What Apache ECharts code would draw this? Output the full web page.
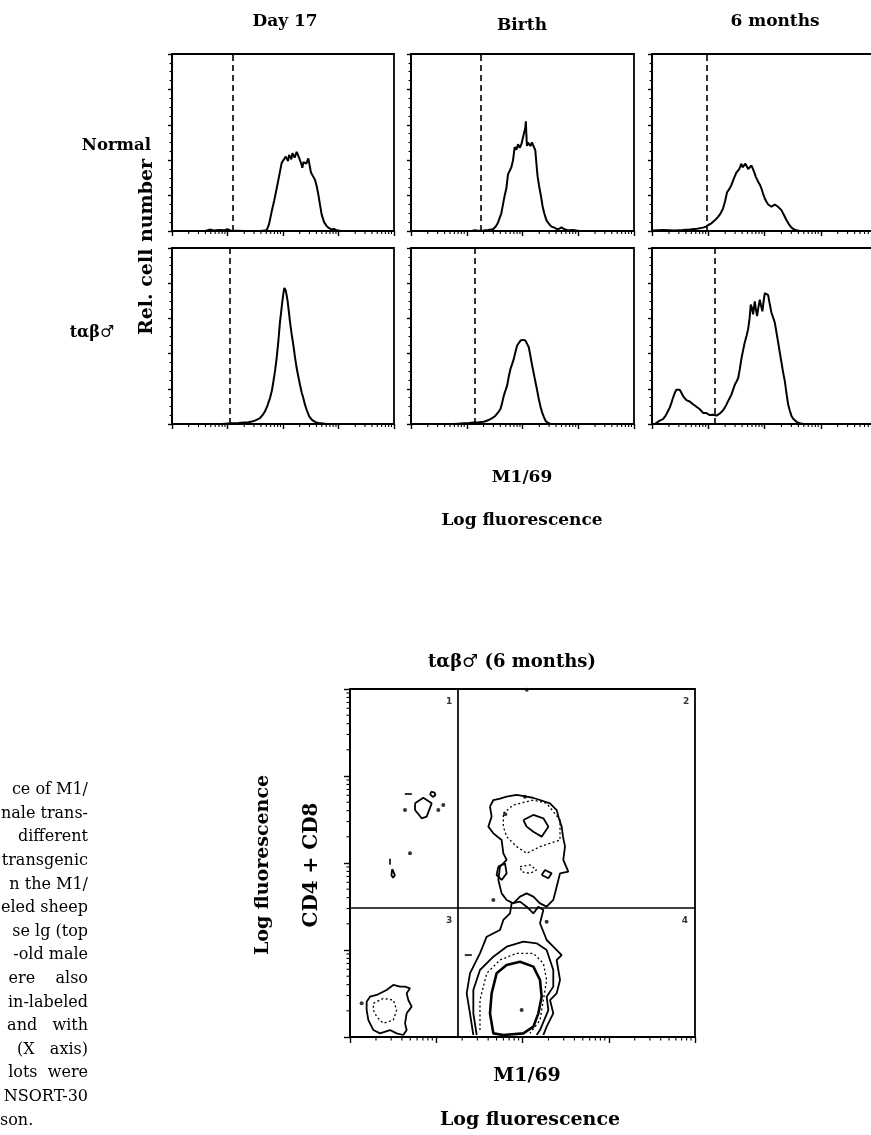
<!DOCTYPE html>
<html><head><meta charset="utf-8">
<script src="https://cdn.jsdelivr.net/npm/echarts@6/dist/echarts.min.js"></script>
<style>html,body{margin:0;padding:0;background:#fff}#c{width:871px;height:1135px}</style>
</head><body><div id="c"></div>
<script>
// ---------- categories / labels ----------
const columnLabels = ['Day 17', 'Birth', '6 months'];
const rowLabels = ['Normal', 'tαβ♂'];
const captionLines = ['ce of M1/', 'nale trans-', 'different', 'transgenic', 'n the M1/', 'eled sheep',
  'se lg (top', '-old male', 'ere    also', 'in-labeled', 'and   with', '(X   axis)', 'lots  were', 'NSORT-30', 'son.'];

// ---------- histogram data: [log10 fluorescence, relative cell number] ----------
const histNormalDay17 = [[0,0],[0.6,0],[0.68,0.8],[0.75,0.3],[0.85,0.6],[0.95,0.4],[1.0,1.0],[1.05,0.3],[1.3,0],[1.6,0],[1.706,0.5],[1.75,4],[1.796,11],[1.84,17],[1.886,24],[1.93,31],[1.976,38.5],[2.006,40],[2.03,39],[2.05,42],[2.066,41],[2.09,39.5],[2.11,43],[2.126,42],[2.15,40.5],[2.17,44],[2.186,43],[2.21,41.5],[2.246,44.7],[2.27,43],[2.306,42],[2.33,38],[2.348,35.7],[2.37,39],[2.396,40],[2.42,38],[2.456,41],[2.48,37],[2.504,33],[2.54,31],[2.576,29],[2.61,25],[2.636,20.7],[2.666,15],[2.696,9.4],[2.74,5],[2.786,2.8],[2.83,1.6],[2.876,0.9],[2.92,1.2],[2.966,0.4],[3.05,0],[4,0]];
const histNormalBirth = [[0,0],[1.1,0],[1.14,0.5],[1.2,0.2],[1.3,0.3],[1.38,0.6],[1.47,1],[1.52,2.5],[1.56,4.7],[1.62,10],[1.68,20],[1.71,24],[1.74,32],[1.77,33],[1.80,36],[1.83,40],[1.86,47.4],[1.89,46],[1.92,49],[1.95,47],[1.98,49],[2.01,50],[2.03,55.6],[2.05,58],[2.06,62],[2.07,54],[2.08,48],[2.1,50],[2.12,51],[2.14,48],[2.17,50],[2.2,49],[2.23,45.5],[2.25,38],[2.27,31],[2.3,25],[2.33,20],[2.36,14],[2.39,10],[2.43,6],[2.48,3.8],[2.52,2.5],[2.57,1.9],[2.62,1.1],[2.66,1.3],[2.7,2],[2.75,1],[2.8,0.6],[2.84,0.4],[2.9,0.6],[3.02,0],[4,0]];
const histNormal6m = [[0,0.3],[0.02,0.4],[0.2,0.5],[0.4,0.3],[0.55,0.6],[0.67,0.9],[0.8,1.3],[0.91,1.9],[0.96,2.5],[1.0,3.4],[1.05,4.2],[1.09,5.3],[1.13,6.5],[1.175,8],[1.22,10],[1.264,12.8],[1.30,17],[1.335,22],[1.37,23.5],[1.412,26],[1.46,30],[1.50,33],[1.55,35],[1.59,38],[1.61,36],[1.632,35],[1.66,38],[1.68,37],[1.71,35],[1.74,34],[1.77,37],[1.80,36],[1.82,33],[1.845,30.6],[1.87,29],[1.887,27.8],[1.92,26],[1.946,24],[1.975,21],[2.005,18.4],[2.035,16.5],[2.065,15],[2.095,14],[2.124,13.7],[2.15,14.5],[2.183,15],[2.21,14.2],[2.24,13.7],[2.27,12.8],[2.30,11.8],[2.345,9],[2.39,6.2],[2.435,3.8],[2.48,1.9],[2.525,0.9],[2.57,0.4],[2.63,0],[4,0]];
const histTgDay17 = [[0,0],[0.9,0],[1.075,0.4],[1.2,0.5],[1.3,0.8],[1.375,1],[1.44,1.4],[1.495,1.9],[1.54,2.6],[1.586,3.4],[1.63,5],[1.676,7.2],[1.72,10.5],[1.766,14.8],[1.8,19],[1.826,24],[1.856,30],[1.886,37.5],[1.916,47],[1.946,58],[1.968,64],[1.988,69.7],[2.006,74],[2.024,77.3],[2.036,78],[2.048,76],[2.066,73],[2.084,69.7],[2.105,64],[2.126,58],[2.156,51],[2.186,45],[2.216,38],[2.246,31.8],[2.276,27],[2.306,22.3],[2.336,18],[2.366,14.8],[2.396,11],[2.426,8.1],[2.47,4.5],[2.516,2.5],[2.576,1.2],[2.637,0.6],[2.757,0.2],[2.877,0],[4,0]];
const histTgBirth = [[0,0],[0.767,0],[0.85,0.2],[0.946,0.4],[1.04,0.6],[1.126,0.8],[1.22,1.0],[1.305,1.3],[1.37,2],[1.425,2.8],[1.47,3.6],[1.515,4.7],[1.56,6.5],[1.605,8.5],[1.635,12],[1.664,16],[1.694,19],[1.724,21.8],[1.754,27],[1.784,31.3],[1.814,34],[1.844,37],[1.874,41],[1.904,44.6],[1.934,46],[1.964,47.4],[1.985,47.8],[2.005,47.8],[2.03,47],[2.053,47.4],[2.083,45.5],[2.113,43.6],[2.143,38.5],[2.173,33.2],[2.203,28.5],[2.233,23.7],[2.263,19],[2.292,14.2],[2.322,10],[2.352,6.6],[2.382,4],[2.412,1.9],[2.45,0.8],[2.502,0],[4,0]];
const histTg6m = [[0.05,0],[0.078,0.4],[0.137,1.9],[0.196,2.8],[0.226,4],[0.256,5.6],[0.285,7.4],[0.315,9.3],[0.345,12],[0.374,14.9],[0.404,17.5],[0.433,19.5],[0.463,19.8],[0.493,19.5],[0.515,18.2],[0.540,17.7],[0.560,15.5],[0.582,14.5],[0.61,13.6],[0.641,13],[0.67,12.8],[0.70,12],[0.73,11.2],[0.76,10.2],[0.79,9.8],[0.819,9.3],[0.85,8.4],[0.878,7.4],[0.908,6.3],[0.938,5.9],[0.967,6.2],[0.997,5.6],[1.027,5.1],[1.056,4.6],[1.086,5.2],[1.116,5.6],[1.145,4.8],[1.175,5],[1.205,5.9],[1.234,6.5],[1.264,7.8],[1.294,9.3],[1.323,11],[1.353,13],[1.382,14.8],[1.412,16.7],[1.442,19.5],[1.472,22.3],[1.50,24],[1.531,26],[1.56,31],[1.59,37.2],[1.62,42],[1.65,46.5],[1.68,50],[1.709,53.9],[1.735,60],[1.756,67.8],[1.777,66],[1.797,62.3],[1.812,66],[1.827,69.7],[1.848,65],[1.868,61.3],[1.89,66],[1.916,70.6],[1.94,67],[1.963,64],[1.985,70],[2.005,74.3],[2.035,74],[2.064,73.4],[2.094,68],[2.124,63.2],[2.153,60.5],[2.183,57.6],[2.213,52],[2.242,46.5],[2.27,41],[2.30,35.3],[2.33,29.5],[2.362,24.2],[2.39,17.5],[2.42,11.2],[2.45,7.5],[2.48,4.6],[2.51,3],[2.54,1.9],[2.58,1],[2.63,0.4],[2.69,0],[4,0]];
const cutoffsNormal = [1.09, 1.26, 0.985];
const cutoffsTransgenic = [1.045, 1.14, 1.116];

// ---------- tick values ----------
const minorTickValues = [2,3,4,5,6,7,8,9,20,30,40,50,60,70,80,90,200,300,400,500,600,700,800,900,2000,3000,4000,5000,6000,7000,8000,9000];

// ---------- contour plot data: [log M1/69, log CD4+CD8] ----------
const contourQ2Outer = [[1.623,2.648],[1.662,2.724],[1.74,2.74],[1.816,2.762],[1.932,2.782],[2.048,2.762],[2.12,2.75],[2.203,2.724],[2.319,2.686],[2.396,2.609],[2.42,2.52],[2.454,2.418],[2.47,2.3],[2.493,2.188],[2.473,2.035],[2.531,1.900],[2.435,1.881],[2.396,1.728],[2.357,1.575],[2.280,1.498],[2.203,1.536],[2.126,1.613],[2.048,1.651],[1.971,1.613],[1.894,1.536],[1.816,1.575],[1.758,1.651],[1.720,1.805],[1.739,1.958],[1.816,2.035],[1.778,2.111],[1.758,2.264],[1.662,2.341],[1.604,2.418],[1.642,2.533],[1.623,2.648]];
const contourQ2Dotted = [[1.778,2.571],[1.894,2.667],[2.126,2.724],[2.280,2.686],[2.435,2.494],[2.435,2.264],[2.319,2.226],[2.203,2.188],[2.048,2.111],[1.932,2.188],[1.816,2.303],[1.778,2.418],[1.778,2.571]];
const contourQ2Core = [[2.010,2.494],[2.126,2.552],[2.242,2.514],[2.300,2.418],[2.222,2.303],[2.126,2.360],[2.048,2.418],[2.010,2.494]];
const contourQ2SmallA = [[2.222,1.862],[2.261,1.920],[2.338,1.881],[2.300,1.824],[2.222,1.862]];
const contourQ2SmallB = [[1.720,1.958],[1.797,1.996],[1.816,1.881],[1.758,1.805],[1.700,1.862],[1.720,1.958]];
const contourQ2DottedBit = [[1.971,1.958],[2.087,1.977],[2.164,1.920],[2.087,1.881],[1.990,1.900],[1.971,1.958]];
const contourQ4Outer = [[1.430,0.023],[1.391,0.272],[1.353,0.502],[1.391,0.732],[1.507,0.962],[1.585,1.153],[1.739,1.230],[1.778,1.345],[1.855,1.421],[1.874,1.536],[1.971,1.556],[2.048,1.498],[2.126,1.421],[2.184,1.498],[2.242,1.460],[2.203,1.307],[2.280,1.115],[2.357,1.038],[2.454,0.942],[2.396,0.885],[2.435,0.655],[2.396,0.502],[2.319,0.425],[2.357,0.272],[2.280,0.119],[2.242,0.023]];
const contourQ4Second = [[1.469,0.023],[1.430,0.272],[1.430,0.540],[1.507,0.770],[1.662,0.923],[1.816,1.038],[2.010,1.096],[2.164,1.077],[2.280,1.000],[2.357,0.770],[2.357,0.579],[2.280,0.464],[2.300,0.310],[2.203,0.080],[2.164,0.023]];
const contourQ4Dotted = [[1.507,0.080],[1.507,0.425],[1.585,0.732],[1.739,0.885],[1.932,0.962],[2.126,0.962],[2.242,0.847],[2.280,0.655],[2.242,0.425],[2.203,0.195],[2.087,0.042]];
const contourQ4Core = [[1.778,0.023],[1.662,0.042],[1.623,0.272],[1.642,0.502],[1.700,0.732],[1.816,0.828],[1.971,0.866],[2.126,0.809],[2.203,0.655],[2.222,0.464],[2.184,0.272],[2.126,0.119],[2.010,0.042],[1.778,0.023]];
const contourQ3Outer = [[0.193,0.406],[0.232,0.464],[0.309,0.483],[0.425,0.540],[0.502,0.598],[0.580,0.579],[0.638,0.579],[0.696,0.559],[0.657,0.502],[0.676,0.425],[0.715,0.349],[0.657,0.272],[0.638,0.157],[0.657,0.080],[0.618,0.023],[0.541,0.042],[0.464,0.080],[0.348,0.042],[0.271,0.080],[0.213,0.195],[0.193,0.310],[0.193,0.406]];
const contourQ3Dotted = [[0.271,0.387],[0.386,0.444],[0.502,0.425],[0.541,0.310],[0.502,0.195],[0.386,0.157],[0.309,0.234],[0.271,0.310],[0.271,0.387]];
const contourQ1Diamond = [[0.754,2.686],[0.850,2.751],[0.947,2.686],[0.889,2.533],[0.831,2.514],[0.754,2.609],[0.754,2.686]];
const contourQ1Ring = [[0.94,2.82],[0.98,2.81],[0.99,2.78],[0.96,2.76],[0.93,2.79],[0.94,2.82]];
const contourQ1Oval = [[0.49,1.93],[0.51,1.91],[0.52,1.86],[0.50,1.83],[0.48,1.86],[0.49,1.93]];
const contourDots = [[0.638,2.609],[1.024,2.609],[1.082,2.667],[0.696,2.111],[1.990,0.310],[2.280,1.326],[1.662,1.575],[2.029,2.762],[0.135,0.387],[2.05,3.99],[1.80,2.56]];
const contourDashes = [[0.676,2.793],[1.372,0.942]];
const contourVDashes = [[0.464,2.015]];
const quadrantLabels = ['1', '2', '3', '4'];
const quadrantLabelPos = [[1.148,3.85],[3.896,3.85],[1.148,1.333],[3.884,1.333]];
const quadrantSplit = [1.25, 1.48];

// ---------- build chart ----------
const BLACK = '#000';
const minorLog = minorTickValues.map(v => Math.log10(v));
const grids = [], xAxes = [], yAxes = [], series = [];
const colLeft = [172, 411, 652], colWidth = [222, 223, 225];
const rowTop = [54, 248], rowHeight = [177, 176];
const histData = [[histNormalDay17, histNormalBirth, histNormal6m], [histTgDay17, histTgBirth, histTg6m]];
const cutoffs = [cutoffsNormal, cutoffsTransgenic];

function xMinorTick(len) {
  return function (params, api) {
    const p = api.coord([api.value(0), api.value(1)]);
    return { type: 'line', shape: { x1: p[0], y1: p[1], x2: p[0], y2: p[1] + len }, style: { stroke: BLACK, lineWidth: 1.1 } };
  };
}
function yMinorTick(len) {
  return function (params, api) {
    const p = api.coord([api.value(0), api.value(1)]);
    return { type: 'line', shape: { x1: p[0], y1: p[1], x2: p[0] - len, y2: p[1] }, style: { stroke: BLACK, lineWidth: 1.1 } };
  };
}
const axisBase = {
  axisLine: { show: true, onZero: false, lineStyle: { color: BLACK, width: 2 } },
  axisLabel: { show: false }, splitLine: { show: false }
};

let gi = 0;
for (let r = 0; r < 2; r++) {
  for (let c = 0; c < 3; c++) {
    grids.push({ left: colLeft[c], top: rowTop[r], width: colWidth[c], height: rowHeight[r], show: true, borderColor: BLACK, borderWidth: 1.8, containLabel: false, outerBoundsMode: 'none' });
    xAxes.push(Object.assign({ gridIndex: gi, type: 'value', min: 0, max: 4, interval: 1,
      axisTick: { show: true, inside: false, length: 5, lineStyle: { color: BLACK, width: 1.4 } } }, axisBase));
    yAxes.push(Object.assign({ gridIndex: gi, type: 'value', min: 0, max: 100, interval: 20,
      axisTick: { show: true, inside: false, length: 4, lineStyle: { color: BLACK, width: 1.4 } },
      minorTick: { show: true, splitNumber: 4, length: 2.5, lineStyle: { color: BLACK, width: 1.1 } },
      minorSplitLine: { show: false } }, axisBase));
    series.push({ type: 'line', xAxisIndex: gi, yAxisIndex: gi, data: histData[r][c], showSymbol: false, symbol: 'none',
      lineStyle: { color: BLACK, width: 2 }, clip: true, silent: true, animation: false,
      markLine: { silent: true, symbol: 'none', animation: false, label: { show: false },
        lineStyle: { color: BLACK, type: [6, 4], width: 1.6 }, data: [{ xAxis: cutoffs[r][c] }] } });
    series.push({ type: 'custom', xAxisIndex: gi, yAxisIndex: gi, data: minorLog.map(v => [v, 0]),
      renderItem: xMinorTick(3), silent: true, animation: false, clip: false });
    gi++;
  }
}

// contour grid
const cg = gi;
grids.push({ left: 350, top: 689, width: 345, height: 348, show: true, borderColor: BLACK, borderWidth: 1.8, containLabel: false, outerBoundsMode: 'none' });
xAxes.push(Object.assign({ gridIndex: cg, type: 'value', min: 0, max: 4, interval: 1,
  axisTick: { show: true, length: 6, lineStyle: { color: BLACK, width: 1.4 } } }, axisBase));
yAxes.push(Object.assign({ gridIndex: cg, type: 'value', min: 0, max: 4, interval: 1,
  axisTick: { show: true, length: 6, lineStyle: { color: BLACK, width: 1.4 } } }, axisBase));
series.push({ type: 'custom', xAxisIndex: cg, yAxisIndex: cg, data: minorLog.map(v => [v, 0]), renderItem: xMinorTick(3.5), silent: true, animation: false, clip: false });
series.push({ type: 'custom', xAxisIndex: cg, yAxisIndex: cg, data: minorLog.map(v => [0, v]), renderItem: yMinorTick(3.5), silent: true, animation: false, clip: false });

const contours = [
  [contourQ2Outer, 'solid'], [contourQ2Dotted, 'dotted'], [contourQ2Core, 'solid'], [contourQ2SmallA, 'solid'],
  [contourQ2SmallB, 'solid'], [contourQ2DottedBit, 'dotted'], [contourQ4Outer, 'solid'], [contourQ4Second, 'solid'],
  [contourQ4Dotted, 'dotted'], [contourQ4Core, 'bold'], [contourQ3Outer, 'solid'], [contourQ3Dotted, 'dotted'],
  [contourQ1Diamond, 'solid'], [contourQ1Ring, 'solid'], [contourQ1Oval, 'solid']
];
contours.forEach(([d, s]) => {
  series.push({ type: 'line', xAxisIndex: cg, yAxisIndex: cg, data: d, showSymbol: false, symbol: 'none', silent: true, animation: false,
    lineStyle: { color: BLACK, width: s === 'bold' ? 2.6 : (s === 'dotted' ? 1.3 : 1.8), type: s === 'dotted' ? [2, 2.5] : 'solid' } });
});
series.push({ type: 'scatter', xAxisIndex: cg, yAxisIndex: cg, data: contourDots, symbolSize: 4, itemStyle: { color: BLACK }, silent: true, animation: false,
  markLine: { silent: true, symbol: 'none', animation: false, label: { show: false }, lineStyle: { color: BLACK, type: 'solid', width: 1.7 },
    data: [{ xAxis: quadrantSplit[0] }, { yAxis: quadrantSplit[1] }] } });
series.push({ type: 'scatter', xAxisIndex: cg, yAxisIndex: cg, data: contourDashes, symbol: 'rect', symbolSize: [7, 2], itemStyle: { color: BLACK }, silent: true, animation: false });
series.push({ type: 'scatter', xAxisIndex: cg, yAxisIndex: cg, data: contourVDashes, symbol: 'rect', symbolSize: [2, 6], itemStyle: { color: BLACK }, silent: true, animation: false });
series.push({ type: 'scatter', xAxisIndex: cg, yAxisIndex: cg, symbolSize: 0, silent: true, animation: false,
  data: quadrantLabels.map((t, i) => ({ name: t, value: quadrantLabelPos[i] })),
  label: { show: true, position: 'inside', formatter: p => p.name, color: BLACK, fontFamily: 'DejaVu Sans', fontWeight: 'bold', fontSize: 9 } });

// ---------- text ----------
const F = s => "bold " + s + "px 'DejaVu Serif'";
const graphic = [];
function txt(text, x, y, font, align, rot) {
  graphic.push({ type: 'text', x: x, y: y, rotation: rot || 0, silent: true,
    style: { text: text, font: font, fill: BLACK, textAlign: align || 'center', textVerticalAlign: 'middle' } });
}
txt(columnLabels[0], 285, 22, F(17));
txt(columnLabels[1], 522, 26, F(17));
txt(columnLabels[2], 775, 22, F(17));
txt(rowLabels[0], 151, 146, F(16.5), 'right');
txt(rowLabels[1], 92, 333, F(16));
txt('Rel. cell number', 147, 247, F(19), 'center', Math.PI / 2);
txt('M1/69', 522, 478, F(17));
txt('Log fluorescence', 522, 521, F(17));
txt(rowLabels[1] + ' (6 months)', 512, 662, F(18));
txt('Log fluorescence', 263, 865, F(19), 'center', Math.PI / 2);
txt('CD4 + CD8', 312, 865, F(20), 'center', Math.PI / 2);
txt('M1/69', 527, 1076, F(19));
txt('Log fluorescence', 530, 1120, F(19));
captionLines.forEach((line, i) => {
  const last = i === captionLines.length - 1;
  txt(line, last ? 0 : 88, 790 + i * 23.6, "16px 'DejaVu Serif'", last ? 'left' : 'right');
});

const chart = echarts.init(document.getElementById('c'));
chart.setOption({ animation: false, backgroundColor: '#fff', grid: grids, xAxis: xAxes, yAxis: yAxes, series: series, graphic: graphic });
</script></body></html>
